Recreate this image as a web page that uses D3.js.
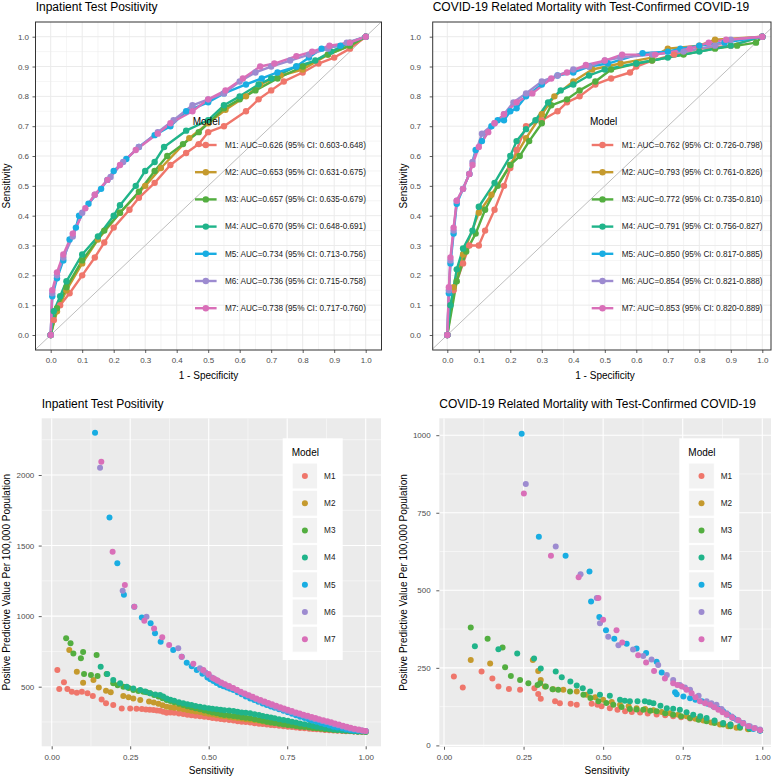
<!DOCTYPE html>
<html><head><meta charset="utf-8">
<script src="https://cdn.jsdelivr.net/npm/d3@7"></script>
<style>body{margin:0;background:#fff;} svg text{font-family:"Liberation Sans",Arial,Helvetica,sans-serif;}</style>
</head><body><svg id="c" width="780" height="779"></svg>
<script>
// ---------------- DATA ----------------
const models = ["M1","M2","M3","M4","M5","M6","M7"];
const modelColors = ["#EF766B","#C59A2E","#53AE40","#20B48A","#19ADE2","#9D8BD0","#D96FB8"];
const titleInpatient = "Inpatient Test Positivity";
const titleMortality = "COVID-19 Related Mortality with Test-Confirmed COVID-19";
const aucInpatient = ["M1: AUC=0.626 (95% CI: 0.603-0.648)","M2: AUC=0.653 (95% CI: 0.631-0.675)","M3: AUC=0.657 (95% CI: 0.635-0.679)","M4: AUC=0.670 (95% CI: 0.648-0.691)","M5: AUC=0.734 (95% CI: 0.713-0.756)","M6: AUC=0.736 (95% CI: 0.715-0.758)","M7: AUC=0.738 (95% CI: 0.717-0.760)"];
const aucMortality = ["M1: AUC=0.762 (95% CI: 0.726-0.798)","M2: AUC=0.793 (95% CI: 0.761-0.826)","M3: AUC=0.772 (95% CI: 0.735-0.810)","M4: AUC=0.791 (95% CI: 0.756-0.827)","M5: AUC=0.850 (95% CI: 0.817-0.885)","M6: AUC=0.854 (95% CI: 0.821-0.888)","M7: AUC=0.853 (95% CI: 0.820-0.889)"];
const rocTicks = [0,0.1,0.2,0.3,0.4,0.5,0.6,0.7,0.8,0.9,1.0];
const ppvXTicks = [0,0.25,0.5,0.75,1.0];
const ppvInpYTicks = [500,1000,1500,2000];
const ppvMortYTicks = [0,250,500,750,1000];

// ROC curves [1 - specificity, sensitivity] — Inpatient Test Positivity
const rocInpM1 = [[0,0],[0.01,0.05],[0.03,0.1],[0.06,0.14],[0.1,0.2],[0.14,0.26],[0.17,0.31],[0.2,0.36],[0.25,0.42],[0.28,0.46],[0.33,0.51],[0.38,0.57],[0.43,0.61],[0.47,0.64],[0.5,0.68],[0.55,0.7],[0.62,0.75],[0.66,0.79],[0.7,0.82],[0.74,0.85],[0.8,0.88],[0.85,0.91],[0.9,0.93],[0.95,0.96],[1,1]];
const rocInpM2 = [[0,0],[0.02,0.08],[0.05,0.15],[0.1,0.24],[0.15,0.32],[0.22,0.41],[0.3,0.5],[0.35,0.56],[0.44,0.66],[0.5,0.71],[0.555,0.755],[0.62,0.8],[0.665,0.84],[0.73,0.87],[0.8,0.89],[0.88,0.94],[0.95,0.97],[1,1]];
const rocInpM3 = [[0,0],[0.02,0.09],[0.05,0.16],[0.1,0.25],[0.17,0.35],[0.22,0.41],[0.28,0.48],[0.33,0.55],[0.37,0.6],[0.42,0.64],[0.47,0.68],[0.55,0.76],[0.6,0.79],[0.65,0.82],[0.72,0.86],[0.8,0.9],[0.88,0.94],[0.95,0.97],[1,1]];
const rocInpM4 = [[0,0],[0.01,0.08],[0.03,0.13],[0.05,0.18],[0.1,0.27],[0.15,0.33],[0.2,0.4],[0.22,0.435],[0.27,0.5],[0.3,0.55],[0.33,0.58],[0.36,0.63],[0.43,0.685],[0.5,0.72],[0.55,0.77],[0.6,0.8],[0.66,0.84],[0.7,0.86],[0.78,0.9],[0.84,0.92],[0.89,0.95],[0.95,0.98],[1,1]];
const rocInpM5 = [[0,0],[0.005,0.13],[0.02,0.19],[0.04,0.25],[0.06,0.32],[0.08,0.36],[0.09,0.4],[0.12,0.44],[0.16,0.49],[0.18,0.52],[0.2,0.55],[0.24,0.59],[0.28,0.63],[0.33,0.67],[0.38,0.7],[0.43,0.75],[0.5,0.78],[0.55,0.81],[0.62,0.84],[0.67,0.86],[0.72,0.88],[0.78,0.9],[0.82,0.93],[0.86,0.96],[0.92,0.97],[1,1]];
const rocInpM6 = [[0,0],[0.005,0.14],[0.02,0.2],[0.04,0.26],[0.07,0.33],[0.1,0.41],[0.14,0.47],[0.19,0.53],[0.23,0.58],[0.28,0.63],[0.34,0.68],[0.39,0.72],[0.45,0.77],[0.5,0.79],[0.55,0.81],[0.6,0.85],[0.65,0.88],[0.7,0.9],[0.76,0.92],[0.82,0.94],[0.88,0.96],[0.94,0.98],[1,1]];
const rocInpM7 = [[0,0],[0.005,0.15],[0.02,0.21],[0.04,0.27],[0.07,0.34],[0.11,0.425],[0.14,0.47],[0.18,0.52],[0.22,0.57],[0.27,0.62],[0.34,0.675],[0.38,0.71],[0.45,0.75],[0.5,0.79],[0.555,0.82],[0.61,0.86],[0.665,0.9],[0.71,0.91],[0.78,0.935],[0.83,0.95],[0.885,0.97],[0.95,0.98],[1,1]];

// ROC curves — COVID-19 Related Mortality
const rocMortM1 = [[0,0],[0.02,0.15],[0.05,0.24],[0.07,0.3],[0.1,0.3],[0.12,0.35],[0.15,0.42],[0.18,0.5],[0.2,0.56],[0.22,0.62],[0.25,0.7],[0.3,0.72],[0.35,0.75],[0.38,0.78],[0.42,0.8],[0.47,0.84],[0.52,0.86],[0.58,0.88],[0.6,0.9],[0.65,0.92],[0.72,0.94],[0.8,0.96],[0.9,0.97],[1,1]];
const rocMortM2 = [[0,0],[0.02,0.16],[0.05,0.27],[0.1,0.41],[0.14,0.47],[0.2,0.57],[0.25,0.66],[0.3,0.74],[0.34,0.8],[0.4,0.85],[0.46,0.89],[0.55,0.91],[0.65,0.93],[0.7,0.96],[0.8,0.97],[0.85,0.99],[1,1]];
const rocMortM3 = [[0,0],[0.03,0.18],[0.06,0.28],[0.09,0.34],[0.12,0.42],[0.16,0.5],[0.2,0.57],[0.23,0.6],[0.26,0.65],[0.3,0.71],[0.33,0.77],[0.38,0.79],[0.42,0.82],[0.47,0.85],[0.52,0.89],[0.6,0.91],[0.65,0.92],[0.75,0.94],[0.85,0.96],[0.92,0.97],[0.98,0.98],[1,1]];
const rocMortM4 = [[0,0],[0.01,0.1],[0.03,0.22],[0.05,0.29],[0.08,0.35],[0.1,0.43],[0.15,0.51],[0.2,0.6],[0.22,0.65],[0.25,0.69],[0.28,0.72],[0.32,0.78],[0.36,0.82],[0.4,0.84],[0.45,0.87],[0.5,0.89],[0.6,0.91],[0.7,0.93],[0.8,0.95],[0.9,0.97],[1,1]];
const rocMortM5 = [[0,0],[0.005,0.14],[0.01,0.24],[0.02,0.34],[0.03,0.44],[0.05,0.49],[0.07,0.54],[0.09,0.62],[0.11,0.65],[0.14,0.7],[0.16,0.72],[0.18,0.72],[0.2,0.75],[0.22,0.76],[0.25,0.8],[0.3,0.84],[0.35,0.87],[0.4,0.88],[0.45,0.9],[0.51,0.91],[0.62,0.945],[0.7,0.95],[0.74,0.96],[0.8,0.97],[0.88,0.98],[1,1]];
const rocMortM6 = [[0,0],[0.005,0.15],[0.01,0.25],[0.02,0.35],[0.03,0.45],[0.05,0.49],[0.07,0.54],[0.08,0.58],[0.11,0.675],[0.15,0.71],[0.18,0.74],[0.21,0.78],[0.25,0.81],[0.3,0.85],[0.35,0.87],[0.4,0.89],[0.45,0.9],[0.5,0.92],[0.55,0.93],[0.65,0.94],[0.75,0.95],[0.85,0.97],[0.9,0.99],[1,1]];
const rocMortM7 = [[0,0],[0.005,0.16],[0.01,0.26],[0.02,0.36],[0.03,0.45],[0.05,0.49],[0.07,0.54],[0.08,0.57],[0.1,0.63],[0.13,0.68],[0.15,0.71],[0.18,0.74],[0.22,0.78],[0.27,0.81],[0.33,0.86],[0.38,0.88],[0.44,0.905],[0.5,0.92],[0.555,0.94],[0.66,0.94],[0.77,0.96],[0.83,0.98],[0.885,0.99],[1,1]];

// PPV per 100,000 [sensitivity, ppv] — Inpatient Test Positivity
const ppvInpM1 = [[0.018,618],[0.024,484],[0.039,531],[0.05,484],[0.064,465],[0.08,458],[0.096,465],[0.114,453],[0.131,434],[0.159,410],[0.173,382],[0.196,370],[0.223,346],[0.25,346],[0.27,344],[0.287,342],[0.3,338],[0.312,336],[0.324,335],[0.335,331],[0.345,330],[0.355,322],[0.366,316],[0.378,318],[0.39,315],[0.405,310],[0.419,307],[0.432,302],[0.445,298],[0.458,294],[0.472,290],[0.486,287],[0.5,284],[0.512,279],[0.525,275],[0.538,272],[0.55,268],[0.565,264],[0.579,260],[0.592,256],[0.605,252],[0.618,249],[0.632,246],[0.646,241],[0.66,238],[0.672,235],[0.685,232],[0.698,229],[0.71,226],[0.724,223],[0.738,220],[0.752,217],[0.765,214],[0.778,211],[0.791,208],[0.805,205],[0.82,202],[0.832,200],[0.844,198],[0.857,196],[0.87,194],[0.884,192],[0.897,190],[0.91,188],[0.925,186],[0.937,185],[0.95,184],[0.962,182],[0.975,181],[0.988,180],[1.0,180]];
const ppvInpM2 = [[0.056,760],[0.08,606],[0.1,528],[0.133,547],[0.15,495],[0.173,472],[0.188,460],[0.228,434],[0.245,425],[0.26,417],[0.282,405],[0.31,395],[0.325,388],[0.34,380],[0.353,368],[0.366,358],[0.378,354],[0.39,350],[0.405,345],[0.419,340],[0.432,335],[0.445,330],[0.458,325],[0.472,320],[0.486,314],[0.5,308],[0.512,304],[0.525,300],[0.538,295],[0.55,290],[0.565,286],[0.579,282],[0.592,278],[0.605,274],[0.618,270],[0.632,266],[0.646,262],[0.66,258],[0.672,254],[0.685,250],[0.698,246],[0.71,243],[0.724,239],[0.738,236],[0.752,232],[0.765,229],[0.778,225],[0.791,222],[0.805,218],[0.82,215],[0.832,211],[0.844,208],[0.857,205],[0.87,202],[0.884,199],[0.897,196],[0.91,193],[0.925,191],[0.937,189],[0.95,187],[0.962,185],[0.975,183],[0.988,181],[1.0,180]];
const ppvInpM3 = [[0.046,843],[0.06,807],[0.069,736],[0.093,701],[0.1,746],[0.103,590],[0.125,583],[0.143,725],[0.146,576],[0.175,590],[0.196,524],[0.21,510],[0.228,500],[0.245,490],[0.26,477],[0.276,470],[0.292,465],[0.302,460],[0.313,453],[0.326,441],[0.34,430],[0.353,418],[0.366,406],[0.378,398],[0.39,390],[0.405,380],[0.419,370],[0.432,362],[0.445,355],[0.458,347],[0.472,340],[0.486,332],[0.5,325],[0.512,318],[0.525,311],[0.538,305],[0.55,300],[0.565,296],[0.579,292],[0.592,288],[0.605,284],[0.618,280],[0.632,276],[0.646,270],[0.66,264],[0.672,258],[0.685,252],[0.698,247],[0.71,242],[0.724,237],[0.738,233],[0.752,229],[0.765,225],[0.778,221],[0.791,217],[0.805,214],[0.82,211],[0.832,208],[0.844,205],[0.857,202],[0.87,199],[0.884,196],[0.897,193],[0.91,191],[0.925,189],[0.937,187],[0.95,186],[0.962,184],[0.975,183],[0.988,182],[1.0,181]];
const ppvInpM4 = [[0.156,642],[0.177,590],[0.196,547],[0.218,524],[0.239,500],[0.26,488],[0.282,477],[0.298,466],[0.313,453],[0.33,445],[0.345,441],[0.355,430],[0.366,417],[0.378,408],[0.39,400],[0.405,390],[0.419,382],[0.432,376],[0.445,370],[0.458,364],[0.472,358],[0.486,353],[0.5,348],[0.512,344],[0.525,340],[0.538,337],[0.55,334],[0.565,331],[0.579,328],[0.592,323],[0.605,318],[0.618,315],[0.632,311],[0.646,305],[0.66,299],[0.672,293],[0.685,287],[0.698,282],[0.71,276],[0.724,270],[0.738,264],[0.752,258],[0.765,252],[0.778,246],[0.791,240],[0.805,234],[0.82,228],[0.832,222],[0.844,217],[0.857,212],[0.87,207],[0.884,202],[0.897,198],[0.91,195],[0.925,192],[0.937,189],[0.95,187],[0.962,185],[0.975,183],[0.988,182],[1.0,181]];
const ppvInpM5 = [[0.138,2300],[0.184,1698],[0.209,1374],[0.23,1152],[0.263,1067],[0.287,991],[0.315,949],[0.329,878],[0.347,819],[0.387,760],[0.414,713],[0.43,670],[0.446,645],[0.462,618],[0.48,592],[0.496,566],[0.505,553],[0.515,540],[0.525,526],[0.536,512],[0.547,503],[0.558,494],[0.568,485],[0.579,476],[0.592,461],[0.605,446],[0.618,431],[0.632,417],[0.645,405],[0.658,393],[0.672,381],[0.685,370],[0.698,360],[0.71,350],[0.724,340],[0.738,330],[0.752,319],[0.765,308],[0.778,297],[0.791,287],[0.805,278],[0.818,270],[0.83,261],[0.844,252],[0.857,243],[0.87,234],[0.884,225],[0.897,217],[0.91,211],[0.925,205],[0.937,199],[0.95,193],[0.962,190],[0.975,188],[0.988,187],[1.0,186]];
const ppvInpM6 = [[0.154,2052],[0.226,1180],[0.302,996],[0.403,772],[0.472,630],[0.481,615],[0.49,600],[0.5,582],[0.51,565],[0.52,552],[0.53,540],[0.54,527],[0.55,515],[0.562,502],[0.575,490],[0.588,476],[0.6,462],[0.612,450],[0.625,438],[0.638,425],[0.65,412],[0.662,401],[0.675,390],[0.688,379],[0.7,368],[0.712,358],[0.725,348],[0.738,339],[0.75,330],[0.762,321],[0.775,312],[0.788,304],[0.8,296],[0.812,288],[0.825,280],[0.838,272],[0.85,265],[0.862,257],[0.875,250],[0.888,242],[0.9,234],[0.912,226],[0.925,218],[0.938,211],[0.95,204],[0.962,199],[0.975,194],[0.988,190],[1.0,186]];
const ppvInpM7 = [[0.158,2094],[0.194,1457],[0.233,1220],[0.263,1067],[0.295,968],[0.326,913],[0.352,850],[0.374,795],[0.414,713],[0.451,662],[0.483,618],[0.5,590],[0.515,560],[0.527,545],[0.54,530],[0.552,517],[0.565,505],[0.578,491],[0.59,478],[0.602,465],[0.615,452],[0.628,440],[0.64,428],[0.652,416],[0.665,405],[0.678,395],[0.69,385],[0.702,375],[0.715,365],[0.728,355],[0.74,345],[0.752,336],[0.765,327],[0.778,318],[0.79,310],[0.802,302],[0.815,294],[0.828,286],[0.84,278],[0.852,270],[0.865,262],[0.878,255],[0.89,248],[0.902,240],[0.915,232],[0.928,224],[0.94,216],[0.952,209],[0.965,202],[0.978,196],[0.99,190],[1.0,186]];

// PPV per 100,000 — COVID-19 Related Mortality
const ppvMortM1 = [[0.031,222],[0.059,187],[0.118,238],[0.152,216],[0.171,190],[0.204,182],[0.239,179],[0.284,184],[0.296,166],[0.304,150],[0.349,142],[0.364,136],[0.398,134],[0.417,131],[0.464,134],[0.482,131],[0.495,126],[0.521,120],[0.545,115],[0.569,110],[0.59,108],[0.616,106],[0.64,103],[0.668,100],[0.695,97],[0.72,94],[0.745,91],[0.773,87],[0.8,84],[0.825,80],[0.85,76],[0.877,71],[0.9,67],[0.93,61],[0.96,55],[0.993,49]];
const ppvMortM2 = [[0.084,275],[0.145,264],[0.279,275],[0.296,240],[0.304,211],[0.317,190],[0.343,181],[0.375,179],[0.417,174],[0.448,163],[0.475,155],[0.5,147],[0.527,140],[0.553,131],[0.58,126],[0.605,120],[0.632,117],[0.658,113],[0.684,108],[0.71,104],[0.736,99],[0.762,94],[0.79,86],[0.815,80],[0.84,74],[0.867,67],[0.893,62],[0.919,57],[0.955,52],[0.993,49]];
const ppvMortM3 = [[0.084,380],[0.137,344],[0.184,316],[0.192,252],[0.21,224],[0.239,211],[0.265,200],[0.294,195],[0.302,200],[0.32,190],[0.341,181],[0.359,179],[0.396,174],[0.438,163],[0.46,153],[0.485,142],[0.51,137],[0.532,131],[0.558,124],[0.584,117],[0.605,116],[0.626,115],[0.648,112],[0.668,110],[0.695,104],[0.72,99],[0.745,94],[0.773,88],[0.8,83],[0.825,78],[0.85,72],[0.877,67],[0.9,62],[0.93,57],[0.96,53],[0.993,49]];
const ppvMortM4 = [[0.097,320],[0.171,310],[0.23,296],[0.283,280],[0.304,248],[0.351,238],[0.37,220],[0.397,206],[0.417,193],[0.436,184],[0.459,174],[0.49,163],[0.521,160],[0.553,147],[0.568,144],[0.584,142],[0.608,142],[0.631,142],[0.645,139],[0.658,136],[0.68,128],[0.7,120],[0.72,118],[0.741,115],[0.762,107],[0.783,99],[0.805,94],[0.825,88],[0.85,80],[0.877,72],[0.9,67],[0.93,62],[0.96,55],[0.993,49]];
const ppvMortM5 = [[0.244,1005],[0.298,673],[0.382,611],[0.457,561],[0.462,464],[0.488,414],[0.509,371],[0.535,344],[0.574,328],[0.605,312],[0.635,298],[0.668,270],[0.684,235],[0.726,171],[0.731,165],[0.752,158],[0.773,152],[0.79,147],[0.81,142],[0.828,134],[0.846,126],[0.862,118],[0.877,110],[0.893,99],[0.909,88],[0.925,80],[0.94,72],[0.956,62],[0.972,53],[0.993,47]];
const ppvMortM6 = [[0.257,843],[0.351,641],[0.429,552],[0.48,475],[0.49,394],[0.516,350],[0.548,323],[0.594,309],[0.626,288],[0.652,277],[0.673,259],[0.7,227],[0.72,211],[0.741,195],[0.757,187],[0.773,179],[0.8,160],[0.825,142],[0.84,136],[0.856,131],[0.872,117],[0.888,104],[0.904,93],[0.919,83],[0.94,72],[0.961,62],[0.977,56],[0.993,51]];
const ppvMortM7 = [[0.251,812],[0.336,611],[0.423,542],[0.485,475],[0.5,405],[0.542,371],[0.56,332],[0.61,291],[0.635,267],[0.66,240],[0.694,216],[0.72,200],[0.733,195],[0.747,190],[0.762,179],[0.778,168],[0.79,155],[0.804,142],[0.82,136],[0.836,131],[0.849,123],[0.862,115],[0.875,107],[0.888,99],[0.905,90],[0.925,81],[0.94,71],[0.956,62],[0.975,55],[0.993,49]];

const rocInpatient = [rocInpM1,rocInpM2,rocInpM3,rocInpM4,rocInpM5,rocInpM6,rocInpM7];
const rocMortality = [rocMortM1,rocMortM2,rocMortM3,rocMortM4,rocMortM5,rocMortM6,rocMortM7];
const ppvInpatient = [ppvInpM1,ppvInpM2,ppvInpM3,ppvInpM4,ppvInpM5,ppvInpM6,ppvInpM7];
const ppvMortality = [ppvMortM1,ppvMortM2,ppvMortM3,ppvMortM4,ppvMortM5,ppvMortM6,ppvMortM7];

// ---------------- DRAWING ----------------
const svg = d3.select("#c");
const FONT_TICK = 8, FONT_AX = 10, FONT_TITLE = 12, FONT_LEG = 8.2;
let clipId = 0;

function styleAxis(g){
  g.select(".domain").remove();
  g.selectAll(".tick line").attr("stroke","#333333").attr("stroke-width",0.8);
  g.selectAll(".tick text").attr("fill","#4D4D4D").style("font-size",FONT_TICK+"px");
}

function rocPanel(c){
  const g = svg.append("g");
  const x = d3.scaleLinear().domain([0,1]).range([c.x0,c.x1]);
  const y = d3.scaleLinear().domain([0,1]).range([c.y0,c.y1]);
  const W = c.right-c.left, H = c.bottom-c.top;
  g.append("rect").attr("x",c.left).attr("y",c.top).attr("width",W).attr("height",H).attr("fill","#fff");
  const minor = d3.range(0.05,1,0.1);
  const grid = g.append("g");
  minor.forEach(v=>{
    grid.append("line").attr("x1",x(v)).attr("x2",x(v)).attr("y1",c.top).attr("y2",c.bottom).attr("stroke","#EBEBEB").attr("stroke-width",0.5);
    grid.append("line").attr("y1",y(v)).attr("y2",y(v)).attr("x1",c.left).attr("x2",c.right).attr("stroke","#EBEBEB").attr("stroke-width",0.5);
  });
  rocTicks.forEach(v=>{
    grid.append("line").attr("x1",x(v)).attr("x2",x(v)).attr("y1",c.top).attr("y2",c.bottom).attr("stroke","#EBEBEB").attr("stroke-width",1);
    grid.append("line").attr("y1",y(v)).attr("y2",y(v)).attr("x1",c.left).attr("x2",c.right).attr("stroke","#EBEBEB").attr("stroke-width",1);
  });
  const id = "clip"+(clipId++);
  svg.append("clipPath").attr("id",id).append("rect").attr("x",c.left).attr("y",c.top).attr("width",W).attr("height",H);
  const pg = g.append("g").attr("clip-path",`url(#${id})`);
  pg.append("line").attr("x1",x(-0.2)).attr("y1",y(-0.2)).attr("x2",x(1.2)).attr("y2",y(1.2)).attr("stroke","#BEBEBE").attr("stroke-width",1);
  const line = d3.line().x(d=>x(d[0])).y(d=>y(d[1]));
  c.series.forEach((s,i)=>{
    pg.append("path").datum(s).attr("d",line).attr("fill","none").attr("stroke",modelColors[i]).attr("stroke-width",2.4).attr("stroke-linejoin","round").attr("stroke-linecap","round");
  });
  c.series.forEach((s,i)=>{
    pg.selectAll(null).data(s).enter().append("circle").attr("cx",d=>x(d[0])).attr("cy",d=>y(d[1])).attr("r",3.2).attr("fill",modelColors[i]);
  });
  g.append("rect").attr("x",c.left).attr("y",c.top).attr("width",W).attr("height",H).attr("fill","none").attr("stroke","#333333").attr("stroke-width",1);
  const ax = g.append("g").attr("transform",`translate(0,${c.bottom})`).call(d3.axisBottom(x).tickValues(rocTicks).tickFormat(d3.format(".1f")).tickSize(3).tickPadding(4.5));
  styleAxis(ax);
  const ay = g.append("g").attr("transform",`translate(${c.left},0)`).call(d3.axisLeft(y).tickValues(rocTicks).tickFormat(d3.format(".1f")).tickSize(3).tickPadding(c.yPad));
  styleAxis(ay);
  g.append("text").attr("x",c.titleX).attr("y",11).text(c.title).style("font-size",FONT_TITLE+"px").attr("fill","#000");
  g.append("text").attr("x",c.xTitleX).attr("y",378.5).attr("text-anchor","middle").text("1 - Specificity").style("font-size",FONT_AX+"px").attr("fill","#000");
  g.append("text").attr("transform",`translate(${c.yTitleX},${(c.top+c.bottom)/2}) rotate(-90)`).attr("text-anchor","middle").attr("dy","0.35em").text("Sensitivity").style("font-size",FONT_AX+"px").attr("fill","#000");
  const lg = g.append("g");
  lg.append("text").attr("x",c.legX).attr("y",121.7).attr("dy","0.35em").text("Model").style("font-size",FONT_AX+"px").attr("fill","#000");
  c.labels.forEach((t,i)=>{
    const yy = 145 + i*27.2;
    lg.append("line").attr("x1",c.keyX).attr("x2",c.keyX+21.6).attr("y1",yy).attr("y2",yy).attr("stroke",modelColors[i]).attr("stroke-width",2.4);
    lg.append("circle").attr("cx",c.keyX+10.8).attr("cy",yy).attr("r",3.2).attr("fill",modelColors[i]);
    lg.append("text").attr("x",c.labX).attr("y",yy).attr("dy","0.35em").text(t).style("font-size",FONT_LEG+"px").attr("fill","#1A1A1A");
  });
}

function ppvPanel(c){
  const g = svg.append("g");
  const x = d3.scaleLinear().domain([0,1]).range([c.x0,c.x1]);
  const y = d3.scaleLinear().domain([c.yv0,c.yv1]).range([c.yp0,c.yp1]);
  const W = c.right-c.left, H = c.bottom-c.top;
  g.append("rect").attr("x",c.left).attr("y",c.top).attr("width",W).attr("height",H).attr("fill","#EBEBEB");
  const id = "clip"+(clipId++);
  svg.append("clipPath").attr("id",id).append("rect").attr("x",c.left).attr("y",c.top).attr("width",W).attr("height",H);
  const pg = g.append("g").attr("clip-path",`url(#${id})`);
  c.xMinor.forEach(v=>pg.append("line").attr("x1",x(v)).attr("x2",x(v)).attr("y1",c.top).attr("y2",c.bottom).attr("stroke","#fff").attr("stroke-width",0.5));
  c.yMinor.forEach(v=>pg.append("line").attr("y1",y(v)).attr("y2",y(v)).attr("x1",c.left).attr("x2",c.right).attr("stroke","#fff").attr("stroke-width",0.5));
  ppvXTicks.forEach(v=>pg.append("line").attr("x1",x(v)).attr("x2",x(v)).attr("y1",c.top).attr("y2",c.bottom).attr("stroke","#fff").attr("stroke-width",1.1));
  c.yTicks.forEach(v=>pg.append("line").attr("y1",y(v)).attr("y2",y(v)).attr("x1",c.left).attr("x2",c.right).attr("stroke","#fff").attr("stroke-width",1.1));
  c.series.forEach((s,i)=>{
    pg.selectAll(null).data(s).enter().append("circle").attr("cx",d=>x(d[0])).attr("cy",d=>y(d[1])).attr("r",3).attr("fill",modelColors[i]);
  });
  const ax = g.append("g").attr("transform",`translate(0,${c.bottom})`).call(d3.axisBottom(x).tickValues(ppvXTicks).tickFormat(d3.format(".2f")).tickSize(3).tickPadding(5));
  styleAxis(ax);
  const ay = g.append("g").attr("transform",`translate(${c.left},0)`).call(d3.axisLeft(y).tickValues(c.yTicks).tickFormat(d3.format("d")).tickSize(3).tickPadding(c.yPad));
  styleAxis(ay);
  g.append("text").attr("x",c.left).attr("y",407.5).text(c.title).style("font-size",FONT_TITLE+"px").attr("fill","#000");
  g.append("text").attr("x",c.xTitleX).attr("y",774).attr("text-anchor","middle").text("Sensitivity").style("font-size",FONT_AX+"px").attr("fill","#000");
  g.append("text").attr("transform",`translate(${c.yTitleX},${(c.top+c.bottom)/2}) rotate(-90)`).attr("text-anchor","middle").attr("dy","0.35em").text("Positive Predictive Value Per 100,000 Population").style("font-size",FONT_AX+"px").attr("fill","#000");
  const lg = g.append("g");
  lg.append("rect").attr("x",c.legL).attr("y",438.3).attr("width",60).attr("height",221.7).attr("fill","#fff");
  lg.append("text").attr("x",c.legL+9).attr("y",452.7).attr("dy","0.35em").text("Model").style("font-size",FONT_AX+"px").attr("fill","#000");
  models.forEach((m,i)=>{
    const yy = 476 + i*27.2;
    lg.append("rect").attr("x",c.legL+9.5).attr("y",yy-12.9).attr("width",25.4).attr("height",25.8).attr("fill","#F2F2F2").attr("stroke","#fff").attr("stroke-width",0.8);
    lg.append("circle").attr("cx",c.legL+22.2).attr("cy",yy).attr("r",3).attr("fill",modelColors[i]);
    lg.append("text").attr("x",c.legL+41.4).attr("y",yy).attr("dy","0.35em").text(m).style("font-size",FONT_LEG+"px").attr("fill","#1A1A1A");
  });
}

rocPanel({left:35.5,right:381.5,top:22,bottom:350,x0:50.7,x1:365.7,y0:335,y1:36.7,yPad:3.5,
  title:titleInpatient,titleX:35.7,xTitleX:208.5,yTitleX:6,series:rocInpatient,labels:aucInpatient,legX:192.7,keyX:195,labX:225});
rocPanel({left:432.7,right:771,top:22,bottom:350,x0:447.3,x1:762.3,y0:335,y1:36.7,yPad:8.7,
  title:titleMortality,titleX:432.7,xTitleX:605,yTitleX:403.3,series:rocMortality,labels:aucMortality,legX:590,keyX:591.7,labX:621.7});
ppvPanel({left:41.7,right:381,top:418.3,bottom:746.3,x0:51.7,x1:365.7,yv0:500,yv1:2000,yp0:686.7,yp1:475,
  yTicks:ppvInpYTicks,yMinor:[250,750,1250,1750,2250],xMinor:[0.125,0.375,0.625,0.875],yPad:4.4,
  title:titleInpatient,xTitleX:211.3,yTitleX:6.7,series:ppvInpatient,legL:282.7});
ppvPanel({left:439.3,right:771,top:418.3,bottom:746.8,x0:444,x1:762.3,yv0:0,yv1:1000,yp0:745.4,yp1:435.2,
  yTicks:ppvMortYTicks,yMinor:[125,375,625,875],xMinor:[0.125,0.375,0.625,0.875],yPad:5.6,
  title:titleMortality,xTitleX:607,yTitleX:403.3,series:ppvMortality,legL:679.3});
</script></body></html>
